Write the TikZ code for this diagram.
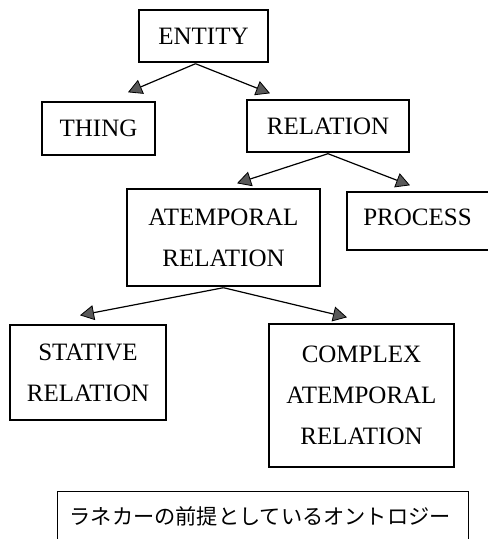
\documentclass[tikz,border=0pt]{standalone}
\usepackage{fontspec}
\setmainfont{Liberation Serif}
\newfontfamily\jpfont{Noto Sans CJK JP}
\usetikzlibrary{arrows.meta,calc}
\begin{document}
\begin{tikzpicture}[x=1pt,y=-1pt,
  box/.style={draw, line width=1.4pt, rectangle, inner sep=0pt,
    font=\fontsize{25}{41}\selectfont, align=center},
  link/.style={line width=1.2pt,
    -{Triangle[length=14pt,width=15pt,fill=black!65,line width=0.8pt]}}]
\useasboundingbox (0,0) rectangle (488,539);
\clip (0,0) rectangle (488,539);

% concept boxes
\node[box, minimum width=129pt, minimum height=52pt] (entity) at (203.5,36) {ENTITY};
\node[box, minimum width=113pt, minimum height=53pt] (thing) at (98.5,128.5) {THING};
\node[box, minimum width=162pt, minimum height=52pt] (relation) at (328,126) {RELATION};
\node[box, minimum width=193pt, minimum height=97pt] (atemporal) at (223.5,237.5) {ATEMPORAL\\RELATION};
\node[box, minimum width=150pt, minimum height=58pt, text depth=8pt] (process) at (422,221) {\hspace*{-9pt}PROCESS\hspace*{0pt}};
\node[box, minimum width=156pt, minimum height=95pt] (stative) at (88,372.5) {STATIVE\\RELATION};
\node[box, minimum width=185pt, minimum height=143pt] (complex) at (361.5,395.5) {COMPLEX\\ATEMPORAL\\RELATION};

% caption
\node[draw, line width=1.4pt, anchor=north west, inner sep=0pt,
  minimum width=411pt, minimum height=70pt, text depth=22pt,
  font=\jpfont\fontsize{21.2}{24}\selectfont] (caption) at (57,491)
  {\hspace*{-6pt}ラネカーの前提としているオントロジー};

% is-a links
\draw[link] ($(entity.south)+(-8,1)$) -- ($(thing.north)+(29.5,-9)$);
\draw[link] ($(entity.south)+(-8,1)$) -- ($(relation.north)+(-58,-6)$);
\draw[link] ($(relation.south)+(0,1)$) -- ($(atemporal.north)+(13.5,-5)$);
\draw[link] ($(relation.south)+(0,1)$) -- ($(process.north)+(-12,-6)$);
\draw[link] ($(atemporal.south)+(0,1)$) -- ($(stative.north)+(-8,-9)$);
\draw[link] ($(atemporal.south)+(0,1)$) -- ($(complex.north)+(-14.5,-6)$);
\end{tikzpicture}
\end{document}
